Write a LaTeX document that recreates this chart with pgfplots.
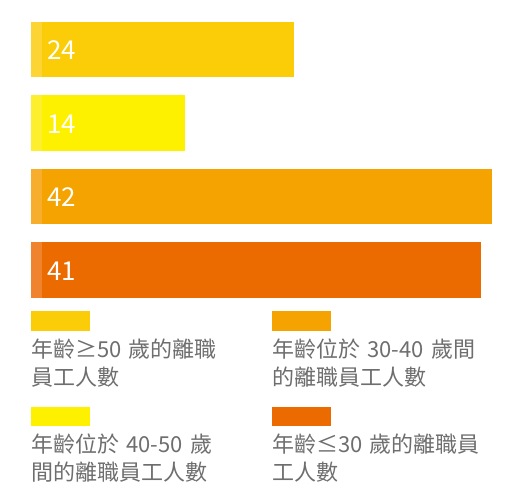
\documentclass[border=0pt]{standalone}
\usepackage{pgfplots}
\pgfplotsset{compat=1.18}
\usepackage{fontspec}
\setmainfont{Noto Sans CJK TC}
\definecolor{cA}{HTML}{FBCD08}
\definecolor{cAl}{HTML}{FCD434}
\definecolor{cB}{HTML}{FDF100}
\definecolor{cBl}{HTML}{FDEE2E}
\definecolor{cC}{HTML}{F5A300}
\definecolor{cCl}{HTML}{F6AE2C}
\definecolor{cD}{HTML}{EC6B00}
\definecolor{cDl}{HTML}{EF832E}
\definecolor{legtext}{HTML}{6E6E6E}
\begin{document}
\begin{tikzpicture}
\useasboundingbox (-31pt,12.75pt) rectangle (490pt,-473.25pt);
\begin{axis}[
	at={(0pt,0pt)}, anchor=north west,
	xbar, bar shift=0pt, bar width=55.5pt,
	scale only axis, width=461pt, height=294pt,
	xmin=0, xmax=42, ymin=0.5, ymax=4.5, y dir=reverse,
	hide axis,
	legend columns=2,
	legend image code/.code={},
	legend style={at={(0,-0.0145)}, anchor=north west, draw=none, fill=none,
		inner sep=0pt, outer sep=0pt, row sep=20pt,
		cells={anchor=west},
		nodes={inner sep=0pt, text width=215pt, align=left, text depth=,
			font=\fontsize{22pt}{28pt}\selectfont, text=legtext},
		/tikz/every even column/.append style={column sep=26pt}},
]
% bars, in legend order (column by column: >=50, 30-40 | 40-50, <=30)
\addplot[fill=cA, draw=none] coordinates {(24,1)};
\addlegendentry{\textcolor{cA}{\rule{59pt}{19.5pt}}\\[-1.5pt]年齡≥50 歲的離職\\員工人數}
\addplot[fill=cC, draw=none] coordinates {(42,3)};
\addlegendentry{\textcolor{cC}{\rule{59pt}{19.5pt}}\\[-1.5pt]年齡位於 30-40 歲間\\的離職員工人數}
\addplot[fill=cB, draw=none] coordinates {(14,2)};
\addlegendentry{\textcolor{cB}{\rule{59pt}{19.5pt}}\\[-1.5pt]年齡位於 40-50 歲\\間的離職員工人數}
\addplot[fill=cD, draw=none] coordinates {(41,4)};
\addlegendentry{\textcolor{cD}{\rule{59pt}{19.5pt}}\\[-1.5pt]年齡≤30 歲的離職員\\工人數}
% lighter strip at the start of each bar
\addplot[fill=cAl, draw=none, forget plot] coordinates {(1,1)};
\addplot[fill=cBl, draw=none, forget plot] coordinates {(1,2)};
\addplot[fill=cCl, draw=none, forget plot] coordinates {(1,3)};
\addplot[fill=cDl, draw=none, forget plot] coordinates {(1,4)};
% value labels inside the bars
\addplot[forget plot, sharp plot, draw=none, mark=none,
	nodes near coords, point meta=explicit symbolic,
	nodes near coords style={anchor=base west, xshift=16pt, yshift=-10pt,
		inner sep=0pt, text=white, font=\fontsize{26pt}{30pt}\selectfont}]
	coordinates {(0,1)[24] (0,2)[14] (0,3)[42] (0,4)[41]};
\end{axis}
\end{tikzpicture}
\end{document}
